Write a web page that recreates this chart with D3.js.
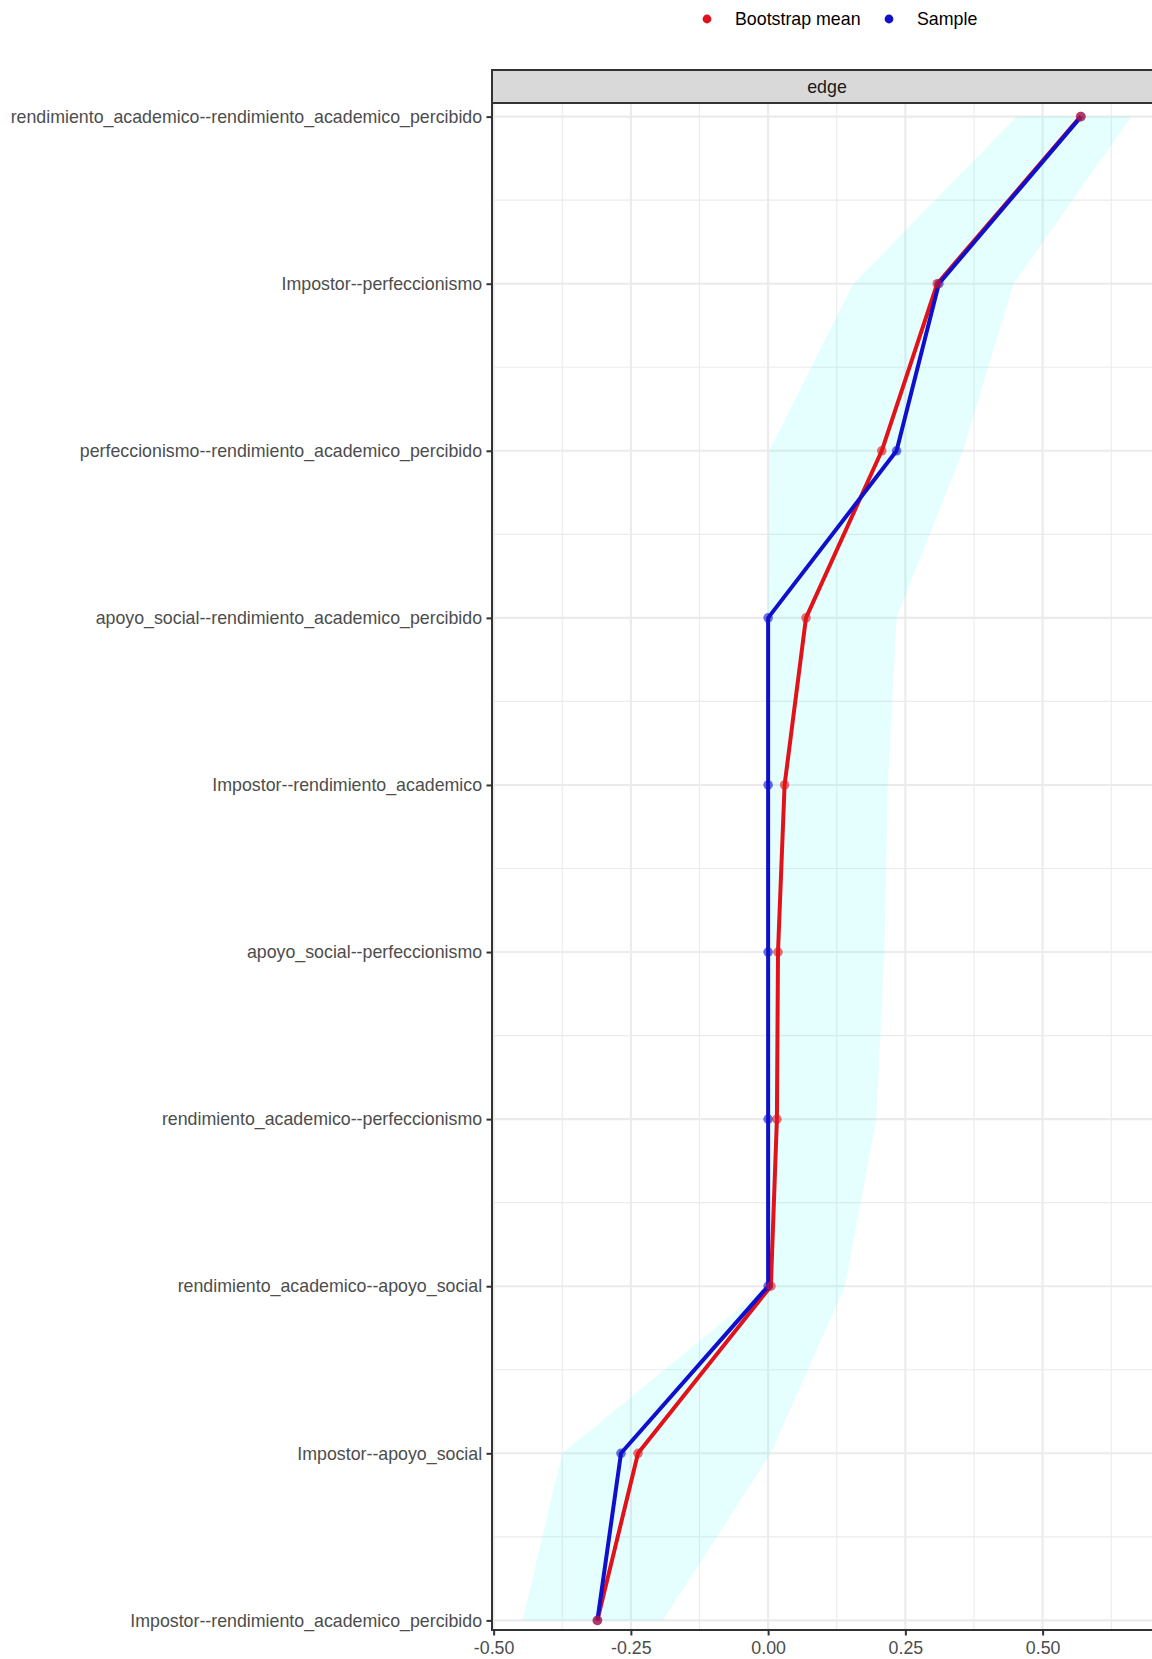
<!DOCTYPE html>
<html>
<head>
<meta charset="utf-8">
<script src="https://cdn.jsdelivr.net/npm/d3@7"></script>
<style>
  html, body { margin: 0; padding: 0; background: #ffffff; }
  svg { display: block; font-family: "Liberation Sans", Arial, sans-serif; }
</style>
</head>
<body>
<svg id="chart" width="1152" height="1659"></svg>
<script>
// Edge weights: sample estimates, bootstrap means and bootstrap CI band
const edges = [
  "rendimiento_academico--rendimiento_academico_percibido",
  "Impostor--perfeccionismo",
  "perfeccionismo--rendimiento_academico_percibido",
  "apoyo_social--rendimiento_academico_percibido",
  "Impostor--rendimiento_academico",
  "apoyo_social--perfeccionismo",
  "rendimiento_academico--perfeccionismo",
  "rendimiento_academico--apoyo_social",
  "Impostor--apoyo_social",
  "Impostor--rendimiento_academico_percibido"
];
const sampleValues = [0.570, 0.311, 0.234, 0.000, 0.000, 0.000, 0.000, 0.000, -0.268, -0.311];
const bootMeanValues = [0.569, 0.308, 0.207, 0.069, 0.030, 0.018, 0.016, 0.005, -0.237, -0.311];
const ciLower = [0.453, 0.155, 0.002, 0.000, 0.000, 0.000, 0.000, -0.003, -0.375, -0.4475];
const ciUpper = [0.662, 0.447, 0.355, 0.234, 0.218, 0.212, 0.197, 0.140, 0.005, -0.192];
const xTicks = [-0.50, -0.25, 0.00, 0.25, 0.50];
const xMinorTicks = [-0.375, -0.125, 0.125, 0.375, 0.625];
const stripLabel = "edge";
const legendLabels = ["Bootstrap mean", "Sample"];

const colRed = "#E2121A";
const colBlue = "#1010CC";
const fontSize = 17.8;

const svg = d3.select("#chart");

// Panel geometry
const panel = { left: 492, right: 1162, top: 103, bottom: 1630 };
const strip = { top: 70, bottom: 103 };

// x scale: data range expanded by 5% on each side
const lo = d3.min(ciLower.concat(sampleValues, bootMeanValues));
const hi = d3.max(ciUpper.concat(sampleValues, bootMeanValues));
const pad = (hi - lo) * 0.05;
const x = d3.scaleLinear().domain([lo - pad, hi + pad]).range([panel.left, panel.right]);
const y = d3.scalePoint().domain(edges).range([panel.top + 2.5, panel.bottom + 1.5]).padding(0.0665);

const rows = edges.map((e, i) => ({
  edge: e, sample: sampleValues[i], boot: bootMeanValues[i], lower: ciLower[i], upper: ciUpper[i]
}));

// Panel background
svg.append("rect")
  .attr("x", panel.left).attr("y", panel.top)
  .attr("width", panel.right - panel.left).attr("height", panel.bottom - panel.top)
  .attr("fill", "#ffffff");

const grid = svg.append("g");
// minor gridlines
grid.selectAll("line.vminor").data(xMinorTicks).join("line")
  .attr("x1", d => x(d)).attr("x2", d => x(d))
  .attr("y1", panel.top).attr("y2", panel.bottom)
  .attr("stroke", "#EBEBEB").attr("stroke-width", 1.1);
const mids = d3.pairs(edges).map(([a, b]) => (y(a) + y(b)) / 2);
grid.selectAll("line.hminor").data(mids).join("line")
  .attr("x1", panel.left).attr("x2", panel.right)
  .attr("y1", d => d).attr("y2", d => d)
  .attr("stroke", "#EBEBEB").attr("stroke-width", 1.1);
// major gridlines
grid.selectAll("line.vmajor").data(xTicks).join("line")
  .attr("x1", d => x(d)).attr("x2", d => x(d))
  .attr("y1", panel.top).attr("y2", panel.bottom)
  .attr("stroke", "#EBEBEB").attr("stroke-width", 2.1);
grid.selectAll("line.hmajor").data(edges).join("line")
  .attr("x1", panel.left).attr("x2", panel.right)
  .attr("y1", d => y(d)).attr("y2", d => y(d))
  .attr("stroke", "#EBEBEB").attr("stroke-width", 2.1);

// CI ribbon
const ribbon = d3.area()
  .y(d => y(d.edge))
  .x0(d => x(d.lower))
  .x1(d => x(d.upper));
svg.append("path")
  .datum(rows)
  .attr("d", ribbon)
  .attr("fill", "#00FFFF")
  .attr("fill-opacity", 0.1);

// Lines
const lineBoot = d3.line().x(d => x(d.boot)).y(d => y(d.edge));
const lineSample = d3.line().x(d => x(d.sample)).y(d => y(d.edge));
svg.append("path").datum(rows).attr("d", lineBoot)
  .attr("fill", "none").attr("stroke", colRed).attr("stroke-width", 4)
  .attr("stroke-linejoin", "round");
svg.append("path").datum(rows).attr("d", lineSample)
  .attr("fill", "none").attr("stroke", colBlue).attr("stroke-width", 4)
  .attr("stroke-linejoin", "round");

// Points
svg.append("g").selectAll("circle").data(rows).join("circle")
  .attr("cx", d => x(d.sample)).attr("cy", d => y(d.edge)).attr("r", 4.8)
  .attr("fill", colBlue).attr("fill-opacity", 0.6);
svg.append("g").selectAll("circle").data(rows).join("circle")
  .attr("cx", d => x(d.boot)).attr("cy", d => y(d.edge)).attr("r", 4.8)
  .attr("fill", colRed).attr("fill-opacity", 0.6);

// Panel border
svg.append("rect")
  .attr("x", panel.left).attr("y", panel.top)
  .attr("width", panel.right - panel.left).attr("height", panel.bottom - panel.top)
  .attr("fill", "none").attr("stroke", "#333333").attr("stroke-width", 2);

// Facet strip
svg.append("rect")
  .attr("x", panel.left).attr("y", strip.top)
  .attr("width", panel.right - panel.left).attr("height", strip.bottom - strip.top)
  .attr("fill", "#D9D9D9").attr("stroke", "#333333").attr("stroke-width", 2);
svg.append("text")
  .attr("x", (panel.left + panel.right) / 2).attr("y", (strip.top + strip.bottom) / 2)
  .attr("text-anchor", "middle").attr("dominant-baseline", "central")
  .attr("font-size", fontSize).attr("fill", "#1A1A1A")
  .text(stripLabel);

// Axes
const yAxis = d3.axisLeft(y).tickSize(5.5).tickPadding(4.4);
const gy = svg.append("g").attr("transform", `translate(${panel.left},0)`).call(yAxis);
const xAxis = d3.axisBottom(x).tickValues(xTicks).tickFormat(d => d.toFixed(2)).tickSize(5.5).tickPadding(6.2);
const gx = svg.append("g").attr("transform", `translate(0,${panel.bottom})`).call(xAxis);
[gx, gy].forEach(g => {
  g.select(".domain").remove();
  g.selectAll(".tick line").attr("stroke", "#333333").attr("stroke-width", 2);
  g.selectAll(".tick text").attr("fill", "#4D4D4D").attr("font-size", fontSize)
    .attr("font-family", "'Liberation Sans', Arial, sans-serif");
});

// Legend
const legendItems = [
  { label: legendLabels[0], color: colRed, cx: 707, tx: 735 },
  { label: legendLabels[1], color: colBlue, cx: 889, tx: 917 }
];
const lg = svg.append("g");
lg.selectAll("circle").data(legendItems).join("circle")
  .attr("cx", d => d.cx).attr("cy", 19).attr("r", 4.4).attr("fill", d => d.color);
lg.selectAll("text").data(legendItems).join("text")
  .attr("x", d => d.tx).attr("y", 19)
  .attr("dominant-baseline", "central")
  .attr("font-size", fontSize).attr("fill", "#000000")
  .text(d => d.label);
</script>
</body>
</html>
